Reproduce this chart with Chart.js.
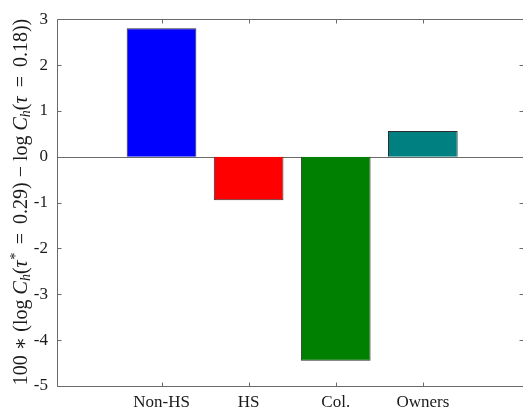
<!DOCTYPE html>
<html>
<head>
<meta charset="utf-8">
<script src="https://cdn.jsdelivr.net/npm/chart.js@4"></script>
<style>
  html, body { margin: 0; padding: 0; background: #fff; }
  #wrap { width: 523px; height: 408px; }
</style>
</head>
<body>
<div id="wrap"><canvas id="c" width="523" height="408"></canvas></div>
<script>
// Consumption change by household group
const groups = ['Non-HS', 'HS', 'Col.', 'Owners'];
const changes = [2.80, -0.95, -4.45, 0.56];
const barColors = ['#0000ff', '#ff0000', '#008000', '#008080'];
const yTicks = [-5, -4, -3, -2, -1, 0, 1, 2, 3];

const SERIF = '"Liberation Serif", "DejaVu Serif", serif';
const AXIS_COLOR = '#6a6a6a';

// y-axis label drawn as rich text (italic symbols, subscripts, superscript)
const labelParts = [
  { t: '100 \u2217 (log ', s: 'n' },
  { t: 'C', s: 'i' },
  { t: 'h', s: 'sub' },
  { t: '(', s: 'n' },
  { t: '\u03c4', s: 'i' },
  { t: '*', s: 'sup' },
  { t: '\u2009 = \u20090.29) \u2212 log ', s: 'n' },
  { t: 'C', s: 'i' },
  { t: 'h', s: 'sub' },
  { t: '(', s: 'n' },
  { t: '\u03c4', s: 'i' },
  { t: '\u2009 = \u20090.18))', s: 'n' }
];

const frame = {
  id: 'frame',
  beforeDatasetsDraw(chart) {
    const { ctx, chartArea: a, scales } = chart;
    const y0 = Math.round(scales.y.getPixelForValue(0)) + 0.5;
    ctx.save();
    ctx.strokeStyle = AXIS_COLOR;
    ctx.lineWidth = 1;
    ctx.beginPath();
    ctx.moveTo(a.left, y0);
    ctx.lineTo(a.right, y0);
    ctx.stroke();
    ctx.restore();
  },
  afterDraw(chart) {
    const { ctx, chartArea: a, scales } = chart;
    const L = Math.round(a.left) + 0.5, R = Math.round(a.right) + 0.5;
    const T = Math.round(a.top) + 0.5, B = Math.round(a.bottom) + 0.5;
    const tl = 4;
    ctx.save();
    ctx.strokeStyle = AXIS_COLOR;
    ctx.lineWidth = 1;
    ctx.beginPath();
    ctx.rect(L, T, R - L, B - T);
    // inward ticks on all four sides
    yTicks.forEach(v => {
      const py = Math.round(scales.y.getPixelForValue(v)) + 0.5;
      ctx.moveTo(L, py); ctx.lineTo(L + tl, py);
      ctx.moveTo(R, py); ctx.lineTo(R - tl, py);
    });
    groups.forEach((g, i) => {
      const px = Math.round(scales.x.getPixelForValue(i + 1)) + 0.5;
      ctx.moveTo(px, B); ctx.lineTo(px, B - tl);
      ctx.moveTo(px, T); ctx.lineTo(px, T + tl);
    });
    ctx.stroke();

    // rotated y-axis title
    const size = 20;
    const fontFor = s => {
      if (s === 'i') return 'italic ' + size + 'px ' + SERIF;
      if (s === 'sub' || s === 'sup') return 'italic ' + Math.round(size * 0.7) + 'px ' + SERIF;
      return size + 'px ' + SERIF;
    };
    let total = 0;
    labelParts.forEach(p => { ctx.font = fontFor(p.s); p.w = ctx.measureText(p.t).width; total += p.w; });
    ctx.translate(22, 202);
    ctx.rotate(-Math.PI / 2);
    ctx.fillStyle = '#1a1a1a';
    ctx.textBaseline = 'middle';
    ctx.textAlign = 'left';
    let x = -total / 2;
    labelParts.forEach(p => {
      ctx.font = fontFor(p.s);
      let dy = 0;
      if (p.s === 'sub') dy = 4;
      if (p.s === 'sup') dy = -6;
      ctx.fillText(p.t, x, dy);
      x += p.w;
    });
    ctx.restore();
  }
};

new Chart(document.getElementById('c'), {
  type: 'bar',
  data: {
    datasets: [{
      data: groups.map((g, i) => ({ x: i + 1, y: changes[i] })),
      backgroundColor: barColors,
      borderColor: '#2e2e2e',
      borderWidth: 1,
      barPercentage: 0.8,
      categoryPercentage: 1
    }]
  },
  options: {
    responsive: false,
    animation: false,
    devicePixelRatio: 1,
    layout: { padding: { top: 16, right: 0, bottom: 0, left: 0 } },
    plugins: { legend: { display: false }, tooltip: { enabled: false } },
    scales: {
      x: {
        type: 'linear',
        offset: false,
        min: -0.2,
        max: 5.15,
        grid: { display: false, drawTicks: false },
        border: { display: false },
        afterBuildTicks(scale) { scale.ticks = groups.map((g, i) => ({ value: i + 1 })); },
        afterFit(scale) { scale.height = 22; },
        ticks: {
          callback: v => groups[v - 1] ?? '',
          color: '#1a1a1a',
          font: { family: SERIF, size: 17 },
          padding: 6,
          maxRotation: 0,
          autoSkip: false
        }
      },
      y: {
        min: -5,
        max: 3,
        grid: { display: false, drawTicks: false },
        border: { display: false },
        afterBuildTicks(scale) { scale.ticks = yTicks.map(v => ({ value: v })); },
        afterFit(scale) { scale.width = 57; },
        ticks: {
          color: '#1a1a1a',
          font: { family: SERIF, size: 17 },
          padding: 9
        }
      }
    }
  },
  plugins: [frame]
});
</script>
</body>
</html>
